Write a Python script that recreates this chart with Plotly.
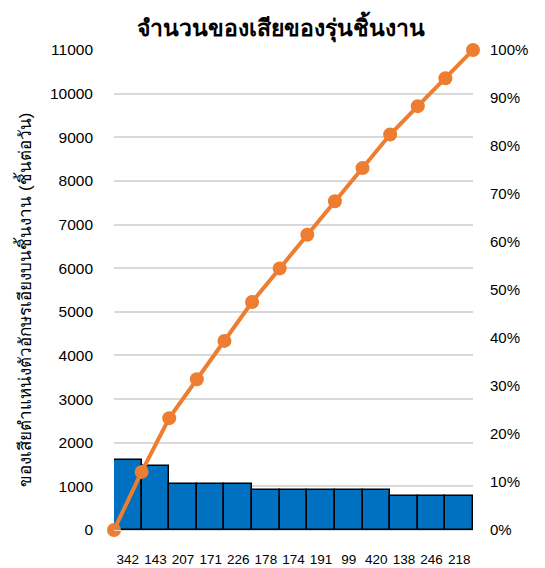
import plotly.graph_objects as go

categories = ["342", "143", "207", "171", "226", "178", "174", "191", "99", "420", "138", "246", "218"]
defects = [1600, 1470, 1060, 1060, 1060, 920, 920, 920, 920, 920, 780, 780, 780]
cum_pct = [0, 12.1, 23.3, 31.4, 39.4, 47.5, 54.5, 61.5, 68.5, 75.4, 82.4, 88.3, 94.1, 100]

left_ticks = list(range(0, 12000, 1000))
right_ticks = list(range(0, 110, 10))

bar_x = [i + 0.5 for i in range(len(categories))]
line_x = list(range(len(cum_pct)))

fig = go.Figure()
fig.add_trace(go.Bar(
    x=bar_x, y=defects, width=1,
    marker=dict(color="#0070C0", line=dict(color="black", width=1.5)),
    showlegend=False,
))
fig.add_trace(go.Scatter(
    x=line_x, y=cum_pct, yaxis="y2", mode="lines+markers",
    line=dict(color="#ED7D31", width=4),
    marker=dict(color="#ED7D31", size=14),
    showlegend=False, cliponaxis=False,
))

fig.update_layout(
    width=545, height=568,
    margin=dict(l=114, r=72, t=50, b=38),
    paper_bgcolor="white", plot_bgcolor="white",
    font=dict(family="Liberation Sans, Arial, sans-serif", color="#000000", size=15),
    title=dict(text="<b>จำนวนของเสียของรุ่นชิ้นงาน</b>", x=0.515, xanchor="center",
               y=0.95, yanchor="middle", font=dict(size=23, color="#000000")),
    bargap=0,
    xaxis=dict(range=[0, 13], tickmode="array", tickvals=bar_x, ticktext=categories,
               showgrid=False, zeroline=False, showline=True, linecolor="#d9d9d9", linewidth=1,
               ticks="", tickfont=dict(size=13.5), ticklabelstandoff=17, automargin=False),
    yaxis=dict(range=[0, 11000], tickmode="array", tickvals=left_ticks,
               ticktext=[str(v) for v in left_ticks],
               showgrid=True, gridcolor="#d9d9d9", gridwidth=1.5, zeroline=False,
               ticks="", tickfont=dict(size=15.5), ticklabelstandoff=20, automargin=False),
    yaxis2=dict(range=[0, 100], overlaying="y", side="right", tickmode="array",
                tickvals=right_ticks, ticktext=[f"{v}%" for v in right_ticks],
                showgrid=False, zeroline=False, ticks="", tickfont=dict(size=15),
                ticklabelstandoff=16, automargin=False),
    annotations=[dict(
        text="ของเสียตำแหน่งตัวอักษรเอียงบนชิ้นงาน (ชิ้นต่อวัน)",
        xref="paper", yref="paper", x=-0.2507, y=0.48, xanchor="center", yanchor="middle",
        textangle=-90, showarrow=False, font=dict(size=17),
    )],
)

fig.write_html("out.html")
